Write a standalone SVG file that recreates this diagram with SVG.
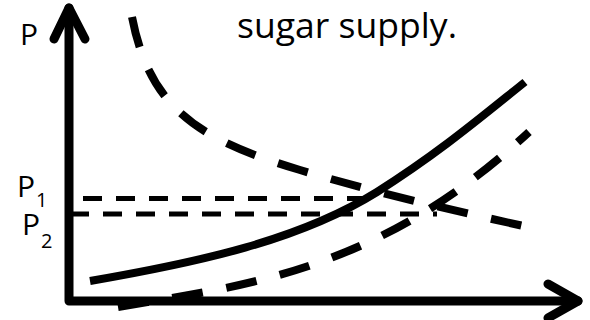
<svg xmlns="http://www.w3.org/2000/svg" width="590" height="320" viewBox="0 0 590 320">
  <style>
    .ax { fill: none; stroke: #000; stroke-width: 9; stroke-linecap: round; stroke-linejoin: round; }
    .curve { fill: none; stroke: #000; stroke-width: 8; }
    .dash { stroke-dasharray: 31 24; }
    .level { fill: none; stroke: #000; stroke-width: 5; stroke-dasharray: 19 14; }
    .lbl { font-family: "Open Sans", "Noto Sans", "Liberation Sans", sans-serif; fill: #000; }
  </style>
  <rect width="590" height="320" fill="#fff"/>
  <g id="levels">
    <path class="level" d="M83,198.5 H372"/>
    <path class="level" d="M70,214 H437"/>
  </g>
  <g id="axes">
    <path class="ax" d="M69,8 V301 H578"/>
    <path class="ax" d="M54,39 L69,8 L85,39"/>
    <path class="ax" d="M548,284 L578,301 L548,318"/>
  </g>
  <g id="curves">
    <path id="supply" class="curve" d="M90,281 C200,262 300,240 377,192 C440,152 480,118 525,82"/>
    <path id="demand" class="curve dash" d="M132,17 C150,110 200,140 300,170 C380,194 460,212 528,227"/>
    <path id="supply2" class="curve dash" d="M118,307 C250,285 380,270 529,132"/>
  </g>
  <g id="labels">
    <text class="lbl" x="20" y="45" font-size="30">P</text>
    <text class="lbl" x="17" y="197" font-size="30">P</text>
    <text class="lbl" x="36" y="207" font-size="20">1</text>
    <text class="lbl" x="22" y="235" font-size="30">P</text>
    <text class="lbl" x="41" y="248" font-size="20">2</text>
    <text class="lbl" x="237" y="38" font-size="35" textLength="220" lengthAdjust="spacingAndGlyphs">sugar supply.</text>
  </g>
</svg>
